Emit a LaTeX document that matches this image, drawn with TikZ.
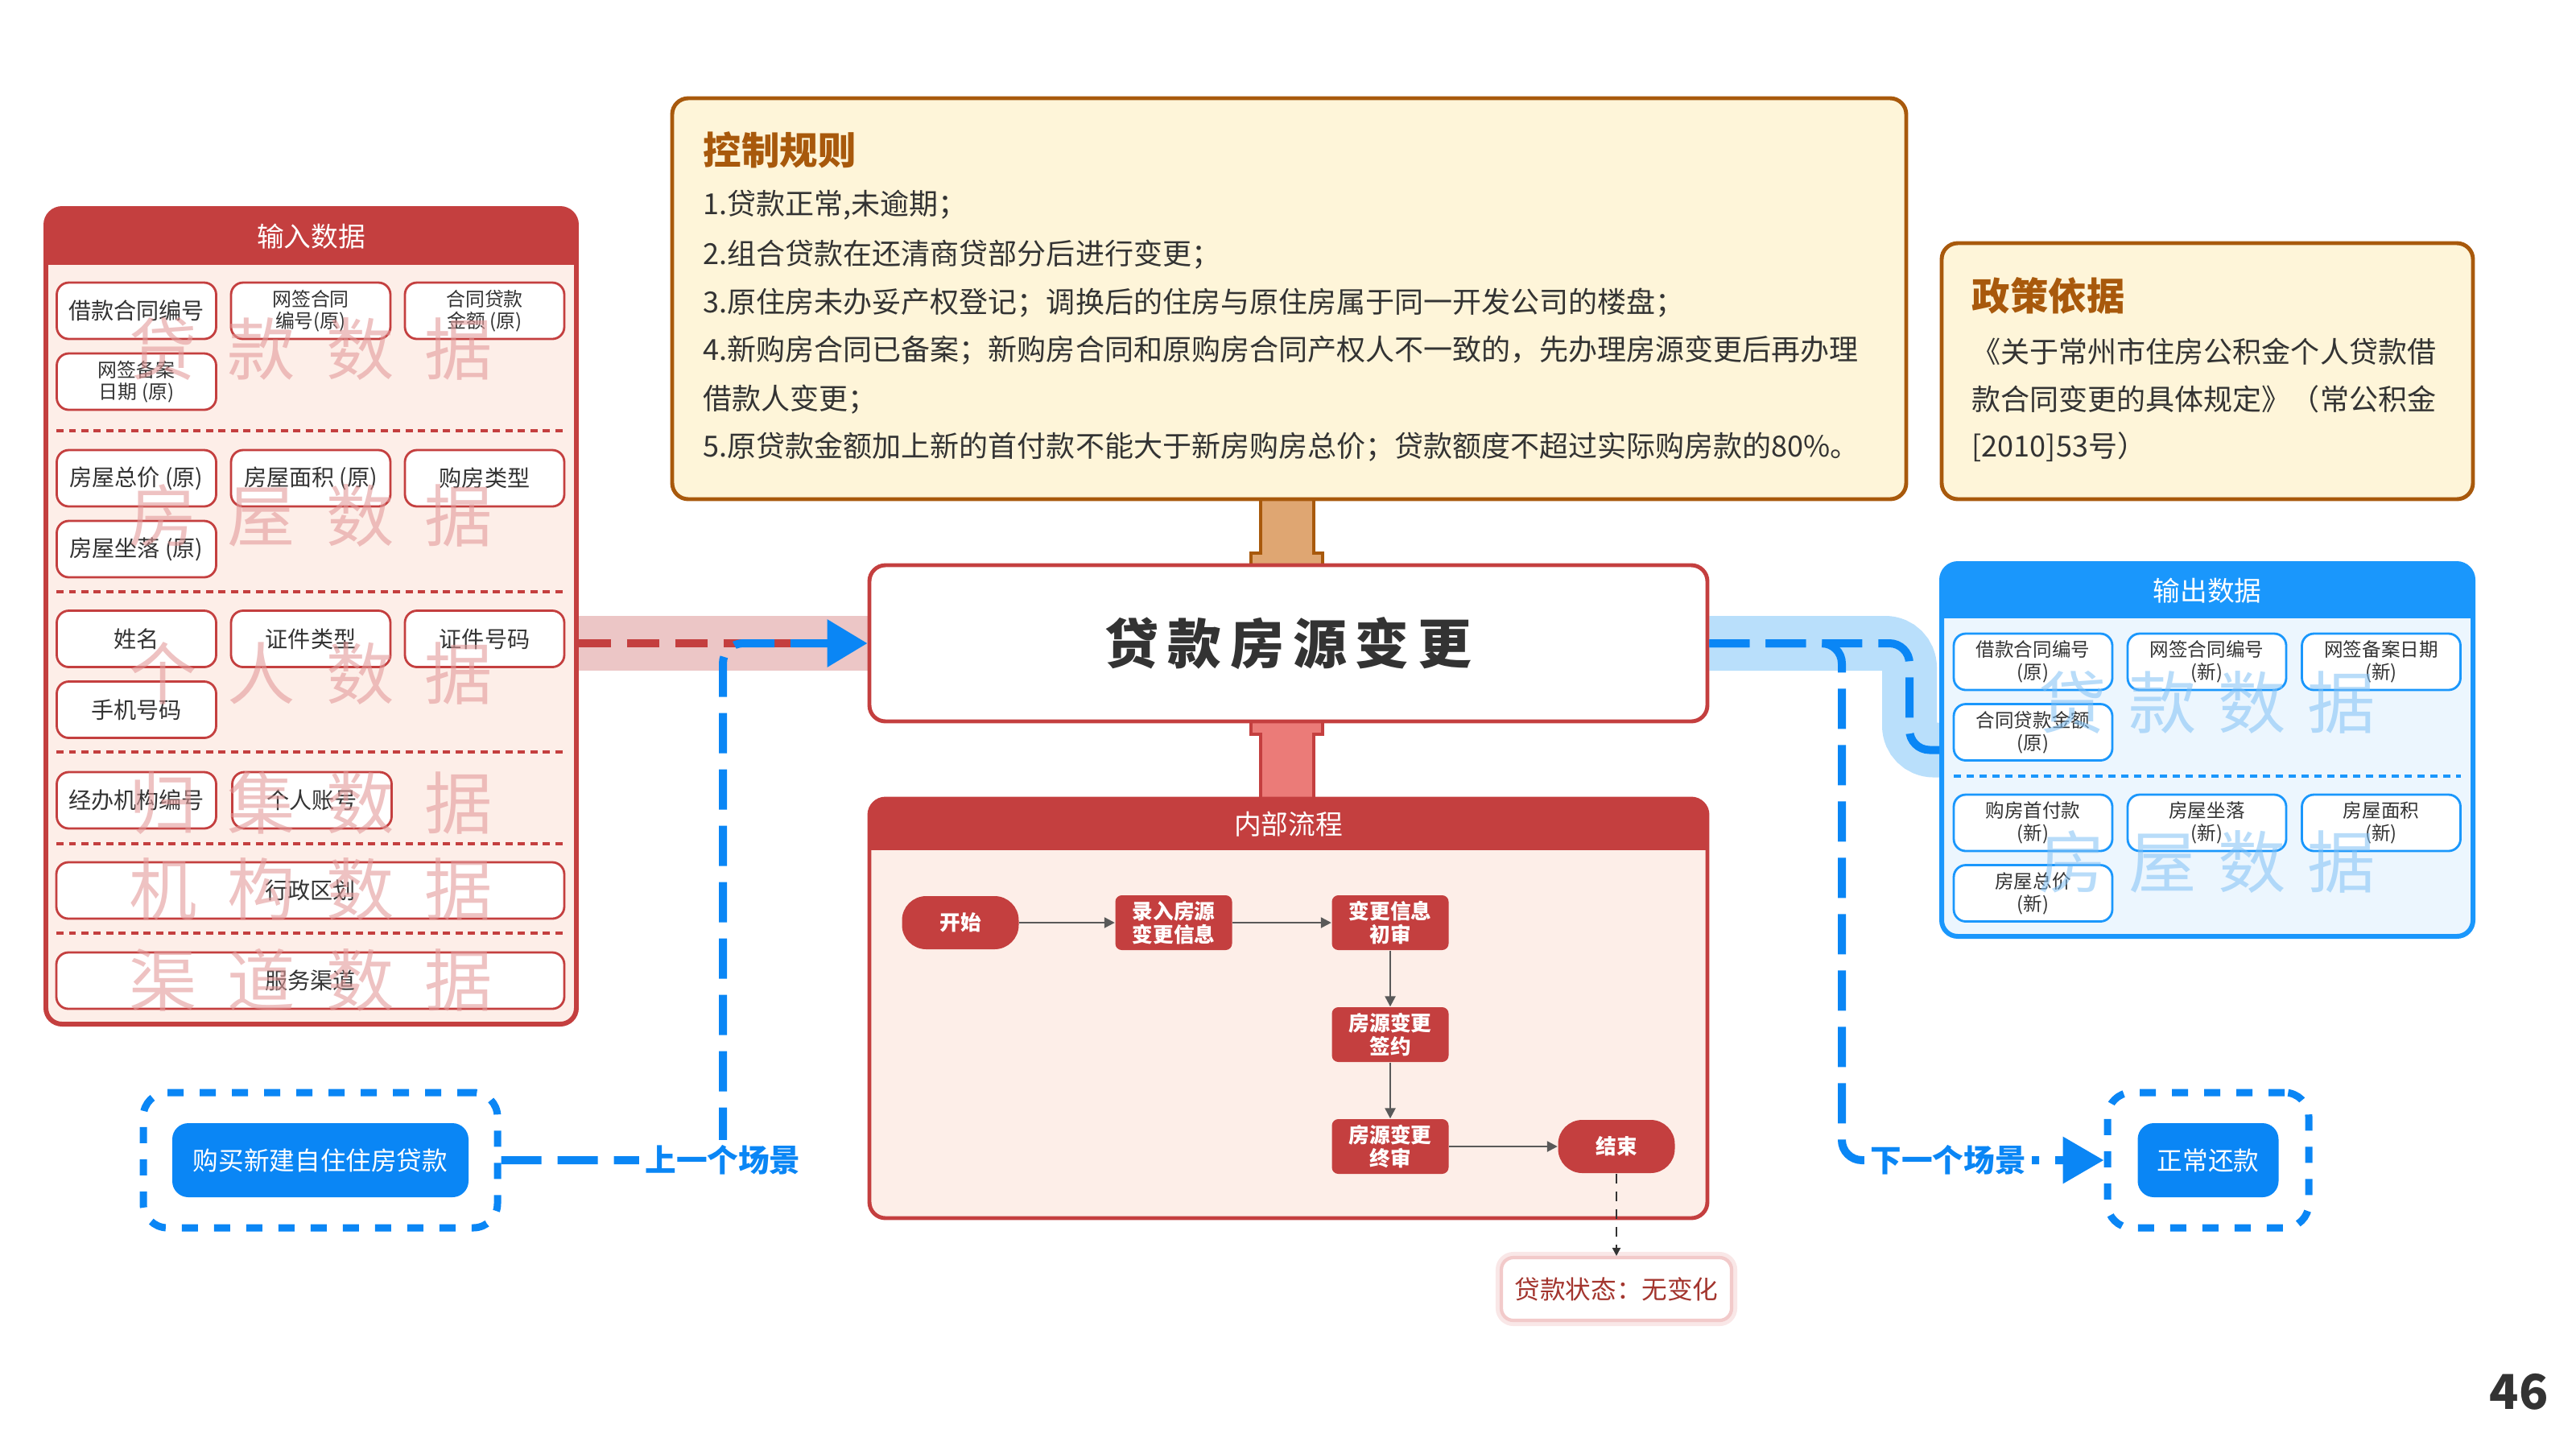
\documentclass[tikz,border=0pt]{standalone}
\usepackage{fontspec}
\setmainfont{Noto Sans CJK SC}
\usetikzlibrary{arrows.meta,backgrounds}

\definecolor{cred}{HTML}{C43F3F}
\definecolor{inbg}{HTML}{FDEEE8}
\definecolor{tdark}{HTML}{333333}
\definecolor{cbrown}{HTML}{A8590C}
\definecolor{ctrlbg}{HTML}{FEF5D9}
\definecolor{ctan}{HTML}{DFA672}
\definecolor{cstem}{HTML}{EB7B78}
\definecolor{oblue}{HTML}{1A97FC}
\definecolor{outbg}{HTML}{ECF6FE}
\definecolor{bbtn}{HTML}{0A86F5}
\definecolor{cband}{HTML}{B9DFFB}
\definecolor{cpband}{HTML}{ECC6C6}
\definecolor{cwmpink}{HTML}{E39A9A}
\definecolor{cwmblue}{HTML}{7FC0F5}
\definecolor{cstat}{HTML}{A3352E}
\definecolor{chalo}{HTML}{F2CACA}

\newcommand\fsz[2]{\fontsize{#1}{#2}\selectfont}

\tikzset{
  inbox/.style={draw=cred, fill=white, line width=0.8pt, rounded corners=0.15cm, minimum width=1.98cm, minimum height=0.70cm, inner sep=1pt, align=center, text=tdark, font=\fsz{8}{9}},
  insmall/.style={inbox, font=\fsz{6.8}{7.8}},
  inwide/.style={inbox, minimum width=6.31cm},
  outbox/.style={draw=oblue, fill=white, line width=0.8pt, rounded corners=0.15cm, minimum width=1.97cm, minimum height=0.70cm, inner sep=1pt, align=center, text=tdark, font=\fsz{6.7}{8}},
  panelhead/.style={text=white, font=\fsz{9.6}{11}},
  redsep/.style={cred, line width=1.3pt, dash pattern=on 0.09cm off 0.065cm},
  bluesep/.style={oblue, line width=1.1pt, dash pattern=on 0.09cm off 0.07cm},
  wmred/.style={text=cwmpink, text opacity=0.6, font=\fsz{24}{26}},
  wmblue/.style={text=cwmblue, text opacity=0.55, font=\fsz{24}{26}},
  flowbox/.style={fill=cred, rounded corners=0.08cm, minimum width=1.45cm, minimum height=0.68cm, inner sep=1pt, align=center, text=white, font=\bfseries\fsz{7.3}{8.3}},
  flowend/.style={flowbox, rounded corners=0.3cm, minimum height=0.66cm},
  flowarrow/.style={draw=gray!70!black, line width=0.7pt, -{Triangle[length=1.3mm,width=1.3mm]}},
  scenebtn/.style={fill=bbtn, rounded corners=0.2cm, minimum height=0.92cm, text=white, font=\fsz{9}{10}},
  sceneframe/.style={draw=bbtn, line width=0.09cm, dash pattern=on 0.2cm off 0.2cm, rounded corners=0.3cm, minimum height=1.68cm},
  blueflow/.style={bbtn, line width=0.1cm, dash pattern=on 0.5cm off 0.2cm, rounded corners=0.25cm},
  reddash/.style={cred, line width=0.1cm, dash pattern=on 0.4cm off 0.2cm},
  scenelabel/.style={fill=white, text=bbtn, font=\bfseries\fsz{11}{12}, inner sep=2pt},
  ruletext/.style={anchor=west, text=tdark, font=\fsz{10.25}{12}, inner sep=0pt},
  ruletitle/.style={anchor=west, text=cbrown, font=\bfseries\fsz{13.5}{15}, inner sep=0pt}
}

\begin{document}
\begin{tikzpicture}[x=1cm,y=-1cm]
\useasboundingbox (0,0) rectangle (32,18);

\node [draw=cred, fill=inbg, line width=1.7pt, rounded corners=0.2cm, minimum width=6.59cm, minimum height=10.13cm] (inpanel) at (3.865,7.655) {};
\begin{scope}
\clip (0.4,2.4) rectangle (7.4,3.28);
\fill [cred, rounded corners=0.2cm] (0.57,2.59) rectangle (7.16,12.72);
\end{scope}
\node [panelhead] (inhead) at (3.865,2.935) {输入数据};
\node [inbox] (in1) at (1.695,3.86) {借款合同编号};
\node [insmall] (in2) at (3.86,3.86) {网签合同\\编号(原)};
\node [insmall] (in3) at (6.02,3.86) {合同贷款\\金额 (原)};
\node [insmall] (in4) at (1.695,4.74) {网签备案\\日期 (原)};
\draw [redsep] (0.70,5.35) -- (7.01,5.35);
\node [inbox] (in5) at (1.695,5.94) {房屋总价 (原)};
\node [inbox] (in6) at (3.86,5.94) {房屋面积 (原)};
\node [inbox] (in7) at (6.02,5.94) {购房类型};
\node [inbox] (in8) at (1.695,6.82) {房屋坐落 (原)};
\draw [redsep] (0.70,7.35) -- (7.01,7.35);
\node [inbox] (in9) at (1.695,7.935) {姓名};
\node [inbox] (in10) at (3.86,7.935) {证件类型};
\node [inbox] (in11) at (6.02,7.935) {证件号码};
\node [inbox] (in12) at (1.695,8.815) {手机号码};
\draw [redsep] (0.70,9.34) -- (7.01,9.34);
\node [inbox] (in13) at (1.695,9.94) {经办机构编号};
\node [inbox] (in14) at (3.875,9.94) {个人账号};
\draw [redsep] (0.70,10.48) -- (7.01,10.48);
\node [inwide] (in15) at (3.855,11.06) {行政区划};
\draw [redsep] (0.70,11.59) -- (7.01,11.59);
\node [inwide] (in16) at (3.855,12.18) {服务渠道};
\node [wmred] (wm1) at (3.86,4.33) {贷\hspace{0.38cm}款\hspace{0.38cm}数\hspace{0.38cm}据};
\node [wmred] (wm2) at (3.86,6.41) {房\hspace{0.38cm}屋\hspace{0.38cm}数\hspace{0.38cm}据};
\node [wmred] (wm3) at (3.86,8.37) {个\hspace{0.38cm}人\hspace{0.38cm}数\hspace{0.38cm}据};
\node [wmred] (wm4) at (3.86,9.97) {归\hspace{0.38cm}集\hspace{0.38cm}数\hspace{0.38cm}据};
\node [wmred] (wm5) at (3.86,11.05) {机\hspace{0.38cm}构\hspace{0.38cm}数\hspace{0.38cm}据};
\node [wmred] (wm6) at (3.86,12.17) {渠\hspace{0.38cm}道\hspace{0.38cm}数\hspace{0.38cm}据};

\node [draw=cbrown, fill=ctrlbg, line width=1.4pt, rounded corners=0.2cm, minimum width=15.33cm, minimum height=4.98cm] (ctrl) at (16.015,3.71) {};
\node [ruletitle] (ctrltitle) at (8.73,1.86) {控制规则};
\node [ruletext] (rule1) at (8.73,2.55) {1.贷款正常,未逾期；};
\node [ruletext] (rule2) at (8.73,3.16) {2.组合贷款在还清商贷部分后进行变更；};
\node [ruletext] (rule3) at (8.73,3.76) {3.原住房未办妥产权登记；调换后的住房与原住房属于同一开发公司的楼盘；};
\node [ruletext] (rule4) at (8.73,4.35) {4.新购房合同已备案；新购房合同和原购房合同产权人不一致的，先办理房源变更后再办理};
\node [ruletext] (rule5) at (8.73,4.96) {借款人变更；};
\node [ruletext] (rule6) at (8.73,5.55) {5.原贷款金额加上新的首付款不能大于新房购房总价；贷款额度不超过实际购房款的80\%。};

\node [draw=cbrown, fill=ctrlbg, line width=1.4pt, rounded corners=0.2cm, minimum width=6.60cm, minimum height=3.18cm] (policy) at (27.42,4.61) {};
\node [ruletitle] (policytitle) at (24.49,3.67) {政策依据};
\node [ruletext] (policy1) at (24.49,4.37) {《关于常州市住房公积金个人贷款借};
\node [ruletext] (policy2) at (24.49,4.96) {款合同变更的具体规定》（常公积金};
\node [ruletext] (policy3) at (24.49,5.55) {[2010]53号）};

\node [draw=cred, fill=white, line width=1.4pt, rounded corners=0.2cm, minimum width=10.41cm, minimum height=1.94cm, text=tdark, font=\bfseries\fsz{19}{21}] (title) at (16.005,7.99) {贷\,款\,房\,源\,变\,更};

\node [draw=cred, fill=inbg, line width=1.4pt, rounded corners=0.2cm, minimum width=10.41cm, minimum height=5.21cm] (flow) at (16.005,12.525) {};
\begin{scope}
\clip (10.6,9.7) rectangle (21.4,10.55);
\fill [cred, rounded corners=0.2cm] (10.80,9.92) rectangle (21.21,15.13);
\end{scope}
\node [panelhead] (flowhead) at (16.005,10.235) {内部流程};
\node [flowend] (start) at (11.93,11.46) {开始};
\node [flowbox] (f1) at (14.58,11.46) {录入房源\\变更信息};
\node [flowbox] (f2) at (17.27,11.46) {变更信息\\初审};
\node [flowbox] (f3) at (17.27,12.85) {房源变更\\签约};
\node [flowbox] (f4) at (17.27,14.24) {房源变更\\终审};
\node [flowend] (stop) at (20.08,14.24) {结束};
\draw [flowarrow] (start) -- (f1);
\draw [flowarrow] (f1) -- (f2);
\draw [flowarrow] (f2) -- (f3);
\draw [flowarrow] (f3) -- (f4);
\draw [flowarrow] (f4) -- (stop);
\node [draw=chalo, fill=white, line width=1.2pt, rounded corners=0.15cm, preaction={draw=chalo!45, line width=4pt}, minimum width=2.86cm, minimum height=0.78cm, text=cstat, font=\fsz{9}{10}] (status) at (20.08,16.01) {贷款状态：无变化};
\draw [draw=tdark, line width=0.6pt, dash pattern=on 1.2mm off 1mm, -{Triangle[length=1mm,width=1mm]}] (stop) -- (status);

\node [draw=oblue, fill=outbg, line width=1.7pt, rounded corners=0.2cm, minimum width=6.60cm, minimum height=4.63cm] (outpanel) at (27.42,9.315) {};
\begin{scope}
\clip (23.9,6.8) rectangle (30.9,7.67);
\fill [oblue, rounded corners=0.2cm] (24.12,7.00) rectangle (30.72,11.63);
\end{scope}
\node [panelhead] (outhead) at (27.42,7.335) {输出数据};
\node [outbox] (out1) at (25.255,8.22) {借款合同编号\\(原)};
\node [outbox] (out2) at (27.415,8.22) {网签合同编号\\(新)};
\node [outbox] (out3) at (29.58,8.22) {网签备案日期\\(新)};
\node [outbox] (out4) at (25.255,9.095) {合同贷款金额\\(原)};
\draw [bluesep] (24.27,9.64) -- (30.57,9.64);
\node [outbox] (out5) at (25.255,10.22) {购房首付款\\(新)};
\node [outbox] (out6) at (27.415,10.22) {房屋坐落\\(新)};
\node [outbox] (out7) at (29.58,10.22) {房屋面积\\(新)};
\node [outbox] (out8) at (25.255,11.095) {房屋总价\\(新)};
\node [wmblue] (wm7) at (27.42,8.72) {贷\hspace{0.27cm}款\hspace{0.27cm}数\hspace{0.27cm}据};
\node [wmblue] (wm8) at (27.42,10.71) {房\hspace{0.27cm}屋\hspace{0.27cm}数\hspace{0.27cm}据};

\node [sceneframe, minimum width=4.40cm] (prevframe) at (3.98,14.41) {};
\node [scenebtn, minimum width=3.68cm] (prevbtn) at (3.98,14.41) {购买新建自住住房贷款};
\node [sceneframe, minimum width=2.50cm] (nextframe) at (27.43,14.41) {};
\node [scenebtn, minimum width=1.75cm] (nextbtn) at (27.43,14.41) {正常还款};

\coordinate (turnL) at (8.98,7.99);
\coordinate (turnR) at (23.72,9.315);
\coordinate (turnN) at (22.88,14.41);

\begin{scope}[on background layer]
\draw [cband, line width=0.68cm, rounded corners=0.3cm] (title.east) -| (turnR) -- (outpanel.west);
\draw [cpband, line width=0.68cm] (inpanel.east |- title.west) -- (title.west);
\filldraw [fill=ctan, draw=cbrown, line width=1pt] (15.66,6.20) -- (15.66,6.87) -- (15.54,6.87) -- (15.54,7.02) -- (16.43,7.02) -- (16.43,6.87) -- (16.32,6.87) -- (16.32,6.20) -- cycle;
\filldraw [fill=cstem, draw=cred, line width=1pt] (15.54,8.96) -- (15.54,9.12) -- (15.66,9.12) -- (15.66,9.92) -- (16.32,9.92) -- (16.32,9.12) -- (16.43,9.12) -- (16.43,8.96) -- cycle;
\end{scope}

\draw [reddash] (inpanel.east |- title.west) -- (title.west);
\draw [blueflow, -{Triangle[length=0.5cm,width=0.57cm]}] (prevframe.east) -| (turnL) -- (title.west);
\draw [blueflow] (title.east) -| (turnR) -- (outpanel.west);
\draw [blueflow, -{Triangle[length=0.51cm,width=0.56cm]}] (title.east) -| (turnN) -- (nextframe.west);
\node [scenelabel] (prevlabel) at (8.98,14.41) {上一个场景};
\node [scenelabel] (nextlabel) at (24.20,14.41) {下一个场景};

\node [text=tdark, font=\bfseries\fsz{17}{19}] (pagenum) at (31.29,17.29) {46};
\end{tikzpicture}
\end{document}
